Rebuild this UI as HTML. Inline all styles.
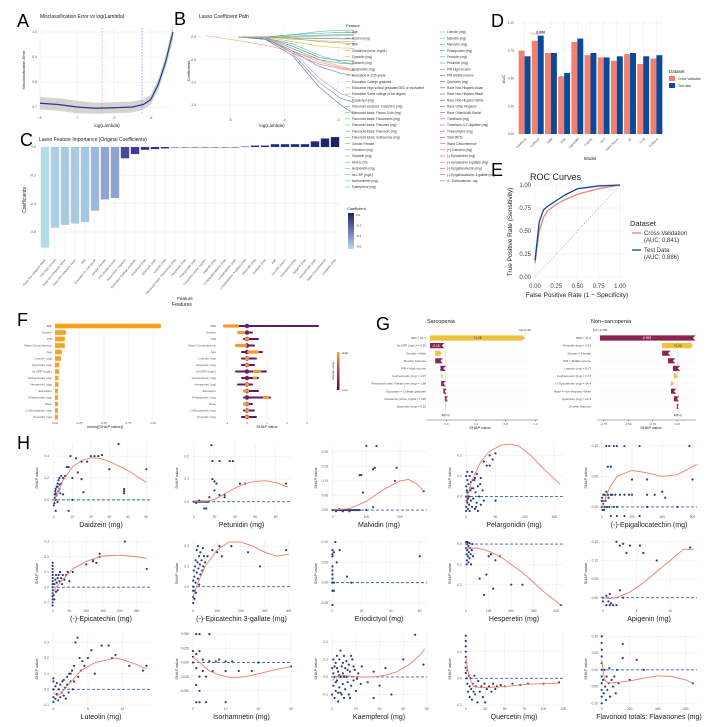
<!DOCTYPE html>
<html><head><meta charset="utf-8"><style>
html,body{margin:0;padding:0;background:#fff;}
svg{display:block;font-family:"Liberation Sans",Arial,sans-serif;}
</style></head><body>
<svg id="chart" width="726" height="727" viewBox="0 0 726 727">
<rect width="726" height="727" fill="#fff"/>
<g font-size="18" fill="#000">
<text x="17" y="27">A</text>
<text x="174" y="25">B</text>
<text x="20" y="146">C</text>
<text x="491" y="27">D</text>
<text x="491" y="176">E</text>
<text x="17" y="326">F</text>
<text x="376" y="330">G</text>
<text x="17" y="449">H</text>
</g>
<text x="40" y="18" font-size="5" fill="#222">Misclassification Error vs log(Lambda)</text>
<text x="107" y="127" font-size="4.5" fill="#222" text-anchor="middle">log(Lambda)</text>
<text transform="translate(25,70) rotate(-90)" font-size="4" fill="#222" text-anchor="middle">Misclassification Error</text>
<text x="199" y="18" font-size="5" fill="#222">Lasso Coefficient Path</text>
<text x="272" y="127" font-size="4.5" fill="#222" text-anchor="middle">log(Lambda)</text>
<text transform="translate(190,71) rotate(-90)" font-size="4" fill="#222" text-anchor="middle">Coefficients</text>
<text x="346" y="27" font-size="4" fill="#222">Feature</text>
<text x="39" y="141" font-size="5" fill="#222">Lasso Feature Importance (Original Coefficients)</text>
<text transform="translate(26,200) rotate(-90)" font-size="5" fill="#222" text-anchor="middle">Coefficients</text>
<text x="185" y="300" font-size="4.5" fill="#222" text-anchor="middle">Feature</text>
<text x="347" y="210" font-size="4" fill="#222">Coefficient</text>
<text x="590" y="160" font-size="4.5" fill="#222" text-anchor="middle">Model</text>
<text transform="translate(505,79) rotate(-90)" font-size="4" fill="#222" text-anchor="middle">AUC</text>
<text x="669" y="73" font-size="4.5" fill="#222">Dataset</text>
<text x="530" y="180" font-size="9" fill="#222">ROC Curves</text>
<text x="577" y="297" font-size="6.5" fill="#222" text-anchor="middle">False Positive Rate (1 − Specificity)</text>
<text transform="translate(512,232) rotate(-90)" font-size="6.5" fill="#222" text-anchor="middle">True Positive Rate (Sensitivity)</text>
<text x="630" y="226" font-size="7.5" fill="#222">Dataset</text>
<text x="182" y="306" font-size="5" fill="#222" text-anchor="middle">Features</text>
<text x="105" y="428" font-size="4" fill="#222" text-anchor="middle">mean(|SHAP value|)</text>
<text x="267" y="428" font-size="4" fill="#222" text-anchor="middle">SHAP value</text>
<text x="427" y="323" font-size="5.5" fill="#222">Sarcopenia</text>
<text x="591" y="323" font-size="5.5" fill="#222">Non−sarcopenia</text>
<text x="480" y="429" font-size="4" fill="#222" text-anchor="middle">SHAP value</text>
<text x="651" y="429" font-size="4" fill="#222" text-anchor="middle">SHAP value</text>
</svg>
<script>
// ---------- DATA ----------
const aLambda=[-8,-7.5,-7,-6.5,-6,-5.5,-5.2,-5,-4.8,-4.6,-4.4];
const aErr=[0.715,0.71,0.70,0.695,0.697,0.70,0.71,0.73,0.79,0.88,1.0];
const aSE=[0.025,0.025,0.025,0.022,0.022,0.022,0.02,0.02,0.022,0.025,0.03];
const aMinLambda=-6.32, aSeLambda=-5.24;
const aXTicks=["-8","-7","-6","-5"], aYTicks=["0.7","0.8","0.9","1.0"];

const bLambda=[-5.45,-4.85,-4.35,-3.85,-3.35,-2.95,-2.7];
const bPaths=[
[0.03,-0.08,-0.18,-0.32,-0.5,-0.65,-0.72],
[null,0,0,0.05,0.12,0.15,0.15],
[null,0,0,0.02,0.04,0.05,0.05],
[null,0,0,-0.02,-0.03,-0.04,-0.04],
[null,0,0,0.01,0.02,0.03,0.03],
[null,0,0,-0.05,-0.08,-0.1,-0.1],
[null,0,0,-0.1,-0.2,-0.24,-0.25],
[null,0,0,-0.2,-0.45,-0.52,-0.53],
[null,0,0,-0.25,-0.5,-0.58,-0.6],
[null,0,-0.05,-0.3,-0.65,-0.8,-0.85],
[null,0,-0.05,-0.4,-1.1,-1.5,-1.7],
[null,0,-0.03,-0.35,-1.0,-1.35,-1.45],
[null,0,-0.02,-0.3,-0.9,-1.25,-1.35],
[null,0,0,-0.35,-0.6,-0.7,-0.75],
[null,0,0,-0.3,-0.55,-0.68,-0.72],
[null,0,-0.02,-0.15,-0.4,-0.55,-0.6],
[null,0,0,0.05,0.08,0.1,0.1],
[null,0,0,-0.03,-0.1,-0.13,-0.15]];
const bColors=["#e8a070","#5cc0c0","#60a8d8","#4070b0","#a0c070","#e0b050","#d8c040","#40a070","#50b080","#4a80c8","#7070b0","#8080c0","#a0a0d0","#e08090","#e89080","#70b0d8","#40b0a0","#c0a050"];
const bXTicks=["-5","-4","-3"], bYTicks=["0.0","-0.5","-1.0","-1.5"];
const bLegend1=["Age","Alcohol (mg)","BMI","Creatinine (urine, mg/dL)","Cyanidin (mg)","Daidzein (mg)","Delphinidin (mg)","Education 9–11th grade","Education College graduate","Education High school graduate/GED or equivalent","Education Some college or AA degree","Eriodictyol (mg)","Flavonoid subclass: Catechins (mg)","Flavonoid totals: Flavan-3-ols (mg)","Flavonoid totals: Flavanones (mg)","Flavonoid totals: Flavones (mg)","Flavonoid totals: Flavonols (mg)","Flavonoid totals: Isoflavones (mg)","Gender Female","Genistein (mg)","Glycitein (mg)","HbA1c (%)","Hesperetin (mg)","hs-CRP (mg/L)","Isorhamnetin (mg)","Kaempferol (mg)"];
const bLegend2=["Luteolin (mg)","Malvidin (mg)","Myricetin (mg)","Pelargonidin (mg)","Peonidin (mg)","Petunidin (mg)","PIR High income","PIR Middle income","Quercetin (mg)","Race Non-Hispanic Asian","Race Non-Hispanic Black","Race Non-Hispanic White","Race Other Hispanic","Race Other/Multi-Racial","Theaflavin (mg)","Theaflavin-3,3'-digallate (mg)","Thearubigins (mg)","Total METs","Waist Circumference","(+)-Catechin (mg)","(-)-Epicatechin (mg)","(-)-Epicatechin 3-gallate (mg)","(-)-Epigallocatechin (mg)","(-)-Epigallocatechin 3-gallate (mg)","X...Gallocatechin..mg."];

const cFeatures=["Race Non-Hispanic Black","PIR High income","Race Non-Hispanic White","Race Non-Hispanic Asian","BMI","Education 9–11th grade","Gender Female","PIR Middle income","Race Other Hispanic","Education College graduate","Eriodictyol (mg)","Quercetin (mg)","Luteolin (mg)","Flavonoid totals: Flavanones (mg)","Hesperetin (mg)","Pelargonidin (mg)","Creatinine (urine, mg/dL)","Malvidin (mg)","(-)-Epigallocatechin (mg)","(-)-Epicatechin (mg)","(-)-Epicatechin 3-gallate (mg)","Petunidin (mg)","Daidzein (mg)","Age","hs-CRP (mg/L)","Kaempferol (mg)","Apigenin (mg)","Isorhamnetin (mg)","Waist Circumference","Genistein (mg)"];
const cValues=[-0.71,-0.57,-0.55,-0.54,-0.53,-0.45,-0.37,-0.36,-0.08,-0.05,-0.02,-0.015,-0.01,-0.003,-0.002,-0.001,-0.001,0,0,0,0.003,0.01,0.01,0.02,0.02,0.02,0.02,0.04,0.06,0.07];
const cYTicks=["0.0","-0.2","-0.4","-0.6"];

const dModels=["AdaBoost","CatBoost","GBM","KNN","LightGBM","Logistic","MLP","Naive Bayes","RF","SVM","XGBoost"];
const dCV=[0.75,0.84,0.73,0.52,0.83,0.71,0.69,0.66,0.72,0.63,0.68];
const dTest=[0.70,0.886,0.73,0.55,0.86,0.73,0.69,0.70,0.73,0.70,0.71];
const dYTicks=["0.00","0.25","0.50","0.75","1.00"];

const eFPR=[0,0.05,0.1,0.15,0.25,0.35,0.5,0.75,1];
const eTprCV=[0.15,0.5,0.65,0.72,0.79,0.84,0.9,0.96,1];
const eTprTest=[0.18,0.6,0.73,0.77,0.83,0.89,0.96,0.99,1];
const eTicks=["0.00","0.25","0.50","0.75","1.00"];

const fFeatures=["BMI","Gender","PIR","Waist Circumference","Age","Luteolin (mg)","Quercetin (mg)","hs-CRP (mg/L)","Isorhamnetin (mg)","Hesperetin (mg)","Education","Pelargonidin (mg)","Race","(-)-Epicatechin (mg)","Peonidin (mg)"];
const fMeanShap=[1.08,0.11,0.10,0.10,0.07,0.06,0.045,0.04,0.035,0.035,0.03,0.03,0.03,0.03,0.03];
const fShapLo=[-1.2,-0.3,-0.2,-0.5,-0.3,-0.3,-0.3,-0.6,-0.3,-0.5,-0.2,-0.2,-0.2,-0.2,-0.3];
const fShapHi=[3.6,0.3,0.6,0.4,0.8,0.5,0.4,1.0,0.6,0.3,0.6,1.2,0.3,0.4,0.5];
const fHighLo=[-1.2,-0.5,-0.1,-0.6,0,-0.1,-0.1,0.3,0.3,-0.1,-0.2,0.8,-0.2,-0.1,-0.1];
const fHighHi=[-0.4,-0.1,0.1,0,0.6,0.1,0.1,0.7,0.5,0.1,0.1,1.1,0.1,0.1,0.1];
const fBarTicks=["0.00","0.25","0.50","0.75","1.00"];
const fSwarmTicks=["-1","0","1","2","3"];

const gSLabels=["BMI = 31.7","hs-CRP (mg/L) = 0.35","Gender = Male","16 other features","PIR = High income","Isorhamnetin (mg) = 1.07","Flavonoid totals: Flavanones (mg) = 1.88","Education = College graduate","Creatinine (urine, mg/dL) = 195","Quercetin (mg) = 6.29"];
const gSValues=[1.28,-0.16,0.09,-0.07,-0.04,0.03,-0.03,-0.02,-0.02,0.01];
const gSFx=1.06;
const gNLabels=["BMI = 21.4","Peonidin (mg) = 0.81","Gender = Female","PIR = Middle income","Luteolin (mg) = 0.07","Isorhamnetin (mg) = 0.73","(-)-Epicatechin (mg) = 34.4","Race = Non-Hispanic White","Quercetin (mg) = 13.3","16 other features"];
const gNValues=[-0.953,0.316,-0.06,-0.05,-0.05,0.04,0.03,-0.03,-0.03,-0.01];
const gNFx=-0.789;
const gSTicks=["0.0","0.4","0.8","1.2"];
const gNTicks=["-0.75","-0.50","-0.25","0.00"];

const hNames=["Daidzein (mg)","Petunidin (mg)","Malvidin (mg)","Pelargonidin (mg)","(-)-Epigallocatechin (mg)","(-)-Epicatechin (mg)","(-)-Epicatechin 3-gallate (mg)","Eriodictyol (mg)","Hesperetin (mg)","Apigenin (mg)","Luteolin (mg)","Isorhamnetin (mg)","Kaempferol (mg)","Quercetin (mg)","Flavonoid totals: Flavanones (mg)"];
const hXDomain=[[-1,52],[-2,95],[-5,280],[-2,165],[-5,630],[-2,290],[-5,410],[-1,65],[-5,430],[-0.3,14],[-0.2,14],[-0.3,30],[-1,80],[-1,125],[-5,680]];
const hYDomain=[[-0.12,0.52],[-0.05,0.26],[-0.01,0.23],[-0.08,0.26],[-0.01,0.105],[-0.13,0.31],[-0.1,0.23],[-0.06,0.105],[-0.31,0.02],[-0.025,0.155],[-0.1,0.36],[-0.075,0.052],[-0.16,0.25],[-0.1,0.17],[-0.105,0.11]];
const hXTicks=[["0","10","20","30","40","50"],["0","20","40","60","80"],["0","100","200"],["0","50","100","150"],["0","200","400","600"],["0","50","100","150","200","250"],["0","100","200","300","400"],["0","20","40","60"],["0","100","200","300","400"],["0","5","10"],["0","5","10"],["0","10","20","30"],["0","20","40","60","80"],["0","25","50","75","100","125"],["0","200","400","600"]];
const hYTicks=[["0.0","0.2","0.4"],["0.0","0.1","0.2"],["0.00","0.05","0.10","0.15","0.20"],["0.0","0.1","0.2"],["0.00","0.05","0.10"],["-0.1","0.0","0.1","0.2","0.3"],["0.0","0.1","0.2"],["-0.05","0.00","0.05","0.10"],["-0.2","-0.1","0.0"],["0.00","0.05","0.10","0.15"],["-0.1","0.0","0.1","0.2","0.3"],["-0.050","-0.025","0.000","0.025","0.050"],["-0.1","0.0","0.1","0.2"],["-0.1","0.0","0.1"],["-0.10","-0.05","0.00","0.05","0.10"]];
const hCurveX=[[0,5,10,15,20,25,30,40,50],[0,10,20,30,40,50,60,70,80,92],[0,50,100,150,200,225,250,270],[0,10,25,40,60,75,90,110,130,160],[0,50,100,200,300,400,500,630],[0,10,30,60,100,150,200,250,280],[0,20,50,100,150,200,250,300,350,400],[],[0,50,100,150,200,250,300,350,420],[0,1,2,4,6,8,10,12,13.5],[0,0.5,1,2,3,4,6,8,9,10,12,13.5],[0,2,5,8,12,16,20,25,30],[0,3,8,15,25,35,45,55,65,75,78],[0,2,5,10,20,40,60,80,100,120],[0,20,50,100,200,300,400,500,600,650]];
const hCurveY=[[-0.02,0.18,0.3,0.36,0.385,0.38,0.35,0.27,0.16],[0,0,0.01,0.035,0.06,0.08,0.09,0.093,0.085,0.065],[0,0.005,0.03,0.07,0.1,0.105,0.09,0.065],[-0.02,0.08,0.17,0.22,0.25,0.255,0.245,0.2,0.14,0.06],[0,0.03,0.05,0.06,0.056,0.05,0.053,0.07],[-0.05,0,0.05,0.12,0.17,0.205,0.21,0.2,0.19],[-0.05,0.02,0.1,0.18,0.22,0.22,0.2,0.17,0.15,0.16],[],[-0.02,-0.02,-0.035,-0.06,-0.1,-0.14,-0.19,-0.24,-0.3],[0,-0.002,0,0.015,0.04,0.07,0.1,0.13,0.13],[-0.02,-0.04,-0.03,0.02,0.07,0.12,0.17,0.19,0.2,0.19,0.16,0.13],[0.01,0,-0.015,-0.022,-0.027,-0.025,-0.02,-0.013,-0.007],[-0.02,0,0.01,0.005,0,0,0.01,0.03,0.07,0.13,0.16],[0.08,0.04,0,-0.03,-0.035,-0.033,-0.028,-0.022,-0.02,-0.018],[0.03,-0.03,-0.04,-0.038,-0.033,-0.025,-0.018,-0.02,-0.03,-0.04]];
const hPoints=[
[[0,-0.05],[0.5,0.05],[1,0.1],[1,0],[1.5,0.12],[2,0.15],[2,-0.02],[2.5,0.08],[3,0.2],[3,0.1],[4,0.22],[4,0.15],[5,0.2],[5,0.05],[6,0.22],[7,0.3],[8,0.3],[9,0.4],[10,0],[10,0.2],[12,0.38],[13,0.25],[15,0.35],[15,0.19],[16,0.07],[18,0.35],[20,0.4],[22,0.4],[24,0.4],[26,0.41],[30,0.28],[35,0.51],[38,0.06],[38,0.1],[38,0.08],[50,0.28],[1,-0.1],[8,-0.1],[0.5,0.02],[2,0.12],[1,0.06],[3,0.14],[0.3,-0.03],[1.5,0.04],[2.5,0.18],[3.5,0.06],[0.8,0.08]],
[[0,0],[1,0],[2,0],[3,0],[4,0],[5,0],[6,0],[7,0],[8,0],[9,0],[10,0],[11,0],[12,0],[13,0],[14,0],[2,-0.005],[5,0.005],[10,-0.03],[12,-0.03],[15,0.02],[17,0.25],[18,0.18],[18,0.1],[20,0.09],[22,0.08],[25,0.18],[25,0.03],[30,0.03],[30,0.02],[35,0.18],[38,0.18],[45,0.08],[50,0.08],[90,0.08],[20,0.05]],
[[0,0],[5,0],[10,0],[15,0],[20,0],[25,0],[30,0],[35,0],[40,0],[45,0],[50,0],[55,0],[60,0],[65,0],[70,0],[75,0],[80,0],[10,-0.004],[30,-0.004],[50,-0.004],[20,0.003],[90,0.06],[100,0.22],[130,0.22],[120,0.14],[125,0.145],[80,0.12],[85,0.12],[190,0.145],[185,0.1],[270,0.065],[120,0.01],[100,0]],
[[0,0.1],[0,0.05],[0,0],[0,-0.05],[0,-0.07],[2,0.12],[2,0.08],[2,0.02],[2,-0.03],[3,-0.06],[4,0.06],[5,0],[5,-0.04],[6,0.1],[7,0.03],[8,-0.02],[8,0.07],[10,0.12],[10,-0.05],[12,0.04],[12,-0.01],[14,0.08],[15,-0.06],[16,0.02],[18,0.11],[18,-0.03],[20,0.05],[20,-0.07],[22,0],[25,0.09],[25,-0.04],[28,0.03],[30,0.17],[30,-0.02],[35,0.15],[40,0.2],[40,0.15],[45,0.18],[50,0.21],[50,-0.02],[1,0.03],[3,-0.01],[6,-0.07],[9,0.04],[15,0.09],[24,0.06],[1,-0.02],[4,0.0],[11,0.08],[17,-0.05]],
[[0,0],[5,0.01],[10,0.02],[15,-0.005],[20,0],[20,0.02],[25,0.01],[30,0.025],[35,0],[40,0.02],[45,0.015],[50,0],[60,0.02],[70,0.02],[80,0],[90,0.02],[0,0.01],[5,-0.005],[10,0.005],[2,0.015],[30,0.1],[50,0.1],[80,0.1],[100,0.1],[150,0.1],[40,0.066],[60,0.066],[250,0.1],[580,0.1],[600,0.045],[200,0.045],[300,0.045],[350,0.02],[420,0.015],[400,0.025],[150,0.02],[200,0.02],[300,0.02],[100,-0.015],[150,-0.015],[250,-0.015],[100,0],[300,0],[500,0],[120,0.02],[180,0.02],[60,-0.015]],
[[0,-0.12],[0,-0.1],[0,-0.08],[0,-0.06],[0,-0.04],[0,-0.02],[0,0],[0,0.02],[0,0.04],[0,0.06],[0,0.08],[0,0.1],[0,0.12],[0,0.14],[0,0.16],[3,-0.05],[5,0.02],[5,-0.08],[8,0.05],[10,-0.03],[10,0.08],[12,0.03],[15,0.06],[15,-0.02],[18,0.08],[20,0.04],[22,0.1],[25,0.06],[28,0.02],[30,0.08],[35,0.05],[40,0.08],[45,0.1],[50,0.04],[100,0.15],[120,0.17],[130,0.16],[140,0.2],[140,0.22],[215,0.3],[280,0.12],[120,0.18],[60,0.1]],
[[0,-0.08],[0,-0.05],[0,-0.02],[0,0],[0,0.03],[5,0.05],[5,-0.06],[8,0.1],[10,0.02],[10,0.13],[12,-0.03],[15,0.07],[15,0.18],[18,0.12],[20,0.04],[20,0.2],[22,0.09],[25,0.15],[25,0.01],[28,0.11],[30,0.06],[30,0.17],[35,0.13],[38,0.08],[40,0.19],[42,0.1],[45,0.15],[50,0.12],[60,0.15],[80,0.18],[100,0.17],[110,0.2],[120,0.15],[160,0.2],[230,0.17],[280,0.1],[390,0.18],[3,0.08],[7,-0.02]],
[[0,0.08],[0,0.07],[0,0.065],[1,0.075],[2,0.1],[5,0.08],[3,0.05],[0,0.03],[0,0.02],[0,0.01],[1,0],[0,-0.02],[1,-0.02],[0,-0.055],[13,0],[10,0.015],[60,0.065],[0,0],[0,0.04]],
[[0,0.01],[0,-0.02],[2,-0.05],[3,-0.08],[5,0],[5,-0.03],[8,-0.06],[10,-0.01],[10,-0.09],[12,-0.04],[15,0.005],[15,-0.07],[18,-0.02],[20,-0.05],[22,-0.1],[25,-0.03],[28,0],[30,-0.06],[2,-0.1],[7,0.01],[100,-0.06],[150,-0.06],[130,-0.08],[80,-0.25],[120,-0.22],[200,-0.2],[250,-0.2],[420,-0.3],[90,-0.15],[60,-0.17],[110,-0.05]],
[[2,0.15],[2.5,0.14],[3,0.145],[3.5,0.12],[4,0.14],[5.5,0.14],[6,0.12],[13,0.135],[8,0.1],[0,0],[0.5,-0.02],[1,-0.02],[1.5,-0.02],[2,-0.02],[0.5,0.005],[1,0.01],[2.5,0.02],[3,0],[0,-0.01],[1.2,-0.015],[0.8,-0.01]],
[[0,-0.08],[0,-0.05],[0,0],[0,0.05],[0,0.07],[0.3,-0.06],[0.3,0.02],[0.5,-0.03],[0.5,0.04],[0.7,-0.07],[0.8,0],[1,-0.05],[1,0.03],[1.2,-0.02],[1.3,0.05],[1.5,-0.04],[1.5,0.06],[1.7,0.01],[1.8,-0.06],[2,0.03],[2,0.08],[2.2,-0.02],[2.3,0.1],[2.5,0.05],[2.7,0.12],[2.8,0],[3,0.15],[3,0.05],[3.2,0.3],[3.5,0.33],[3.8,0.2],[4,0.12],[4.5,0.15],[5,0.2],[5.5,0.25],[6,0.1],[7,0.28],[8,0.28],[8.5,0.2],[9,0.22],[11,0.15],[13,0.12],[13.5,0.15],[2.5,0.1],[4.2,0.18],[3.6,0.08]],
[[0,0.02],[1,0.015],[2,0.02],[0,0.01],[3,0.005],[5,0.002],[7,0.002],[10,0.002],[12,0.002],[20,0],[30,-0.007],[1,0.05],[2,0.05],[5,0.05],[1,-0.01],[3,-0.015],[6,-0.015],[10,-0.015],[14,-0.015],[18,-0.015],[2,-0.025],[4,-0.025],[1,-0.04],[2,-0.05],[1,-0.07],[2,-0.07],[4,-0.07],[10,-0.07],[0,0],[8,0.005]],
[[0,-0.1],[0,0.05],[1,0.1],[1,-0.05],[2,0],[2,-0.12],[3,0.08],[3,-0.08],[4,0.12],[4,-0.02],[5,0.03],[5,-0.14],[6,0.1],[6,-0.06],[7,0.15],[7,0],[8,-0.1],[8,0.06],[9,0.02],[9,-0.04],[10,0.12],[10,-0.12],[11,0.05],[11,-0.07],[12,0],[12,0.09],[13,-0.03],[14,0.07],[14,-0.1],[15,0.03],[16,-0.05],[17,0.1],[18,-0.02],[19,0.04],[20,-0.08],[22,0.02],[24,-0.04],[25,0.06],[2,0.06],[5,-0.09],[30,-0.03],[35,0.03],[40,-0.05],[45,0.05],[50,-0.1],[60,0.1],[70,0.24],[77,0.07],[35,-0.12],[1,0.02],[3,-0.03],[4,0.05],[6,0.01],[7,-0.09],[9,0.08],[10,0.0],[13,0.04],[15,-0.12],[16,0.12],[18,0.06],[21,-0.01]],
[[0,0.16],[0,0.14],[0,0.12],[0,0.1],[0,0.08],[0,0.06],[0,0.04],[0,0.02],[1,0],[2,-0.02],[2,0.03],[3,-0.05],[4,0.01],[5,-0.03],[5,-0.07],[6,0],[7,-0.04],[8,-0.08],[9,-0.02],[10,-0.05],[11,0.01],[12,-0.06],[13,-0.03],[15,-0.09],[16,-0.01],[18,-0.05],[20,-0.03],[22,-0.07],[24,-0.02],[25,-0.09],[27,-0.04],[30,-0.03],[33,-0.05],[35,-0.02],[38,-0.04],[40,-0.03],[45,-0.025],[50,-0.03],[60,-0.02],[70,-0.025],[80,-0.02],[100,-0.02],[120,-0.015]],
[[0,0.1],[0,0.08],[0,0.06],[0,0.04],[0,0.02],[0,0],[0,-0.02],[0,-0.04],[0,-0.06],[0,-0.08],[0,-0.1],[10,-0.03],[15,-0.07],[20,0],[25,-0.05],[30,-0.09],[35,-0.02],[40,-0.06],[50,-0.04],[55,0.005],[60,-0.08],[70,-0.03],[80,-0.05],[90,-0.02],[100,-0.07],[110,0],[150,0.077],[150,0.035],[200,-0.03],[250,0.03],[300,0],[650,-0.04],[120,-0.04]]];

// ---------- HELPERS ----------
const NS='http://www.w3.org/2000/svg';
const svg=document.getElementById('chart');
function mk(tag,attrs,parent){const e=document.createElementNS(NS,tag);for(const k in attrs)e.setAttribute(k,attrs[k]);(parent||svg).appendChild(e);return e;}
function lin(d0,d1,r0,r1){return v=>r0+(v-d0)/(d1-d0)*(r1-r0);}
function grp(name){const g=mk('g',{});return g;}
function txt(p,x,y,s,fs,anchor,fill){const t=mk('text',{x:x,y:y,'font-size':fs,'text-anchor':anchor||'start',fill:fill||'#555'},p);t.textContent=s;return t;}
function mix(c1,c2,t){const a=[1,3,5].map(i=>parseInt(c1.substr(i,2),16)),b=[1,3,5].map(i=>parseInt(c2.substr(i,2),16));return 'rgb('+a.map((v,i)=>Math.round(v+(b[i]-v)*t)).join(',')+')';}
function ramp(stops,t){const n=stops.length-1;const k=Math.min(n-1,Math.floor(t*n));return mix(stops[k],stops[k+1],t*n-k);}
const GRID='#ebebeb';

// ---------- PANEL A ----------
(function(){
const g=grp('panel-a-error-plot');
const x=lin(-8,-4.4,40,173), y=lin(0.7,1.0,107,32);
aXTicks.forEach(s=>{const v=parseFloat(s);mk('line',{x1:x(v),x2:x(v),y1:28,y2:113,stroke:GRID,'stroke-width':0.5},g);txt(g,x(v),119,s,3.5,'middle');});
aYTicks.forEach(s=>{const v=parseFloat(s);mk('line',{x1:40,x2:173,y1:y(v),y2:y(v),stroke:GRID,'stroke-width':0.5},g);txt(g,37,y(v)+1.2,s,3.5,'end');});
let up=aLambda.map((l,i)=>x(l)+','+y(aErr[i]+aSE[i])), dn=aLambda.map((l,i)=>x(l)+','+y(aErr[i]-aSE[i])).reverse();
const band=mk('polygon',{points:up.concat(dn).join(' '),fill:'#c8c8c8','fill-opacity':0.8},g);

const ln=mk('polyline',{points:aLambda.map((l,i)=>x(l)+','+y(aErr[i])).join(' '),fill:'none',stroke:'#27358a','stroke-width':1.2},g);

const r=mk('line',{x1:x(aMinLambda),x2:x(aMinLambda),y1:28,y2:113,stroke:'#f08080','stroke-width':0.6,'stroke-dasharray':'1.5,1.5'},g);

const b=mk('line',{x1:x(aSeLambda),x2:x(aSeLambda),y1:28,y2:113,stroke:'#5080d0','stroke-width':0.6,'stroke-dasharray':'1.5,1.5'},g);

})();

// ---------- PANEL B ----------
(function(){
const g=grp('panel-b-coef-path');
const x=lin(-5,-3,230,338), y=lin(0,-1.5,37,105);
bXTicks.forEach(s=>{const v=parseFloat(s);mk('line',{x1:x(v),x2:x(v),y1:25,y2:118,stroke:GRID,'stroke-width':0.5},g);txt(g,x(v),121,s,3.5,'middle');});
bYTicks.forEach(s=>{const v=parseFloat(s);mk('line',{x1:198,x2:342,y1:y(v),y2:y(v),stroke:GRID,'stroke-width':0.5},g);txt(g,196,y(v)+1.2,s,3.5,'end');});
bPaths.forEach((p,i)=>{const pts=[];p.forEach((v,j)=>{if(v!==null)pts.push(x(bLambda[j])+','+y(v));});
const l=mk('polyline',{points:pts.join(' '),fill:'none',stroke:bColors[i%bColors.length],'stroke-width':0.6},g);
});
const lg=grp('panel-b-legend');
const all=bLegend1.concat(bLegend2);
all.forEach((s,i)=>{const col=i<bLegend1.length?0:1, k=col?i-bLegend1.length:i;
const lx=col?440:345, ly=32+k*6.2;
const c='hsl('+(20+i*320/all.length)+',55%,62%)';
const e=mk('line',{x1:lx,x2:lx+5,y1:ly,y2:ly,stroke:c,'stroke-width':0.7},lg);

txt(lg,lx+7,ly+1.2,s,3.2,'start','#333');});
})();

// ---------- PANEL C ----------
(function(){
const g=grp('panel-c-importance');
const y=lin(0,-0.6,147,232), x0=40, bw=10;
cYTicks.forEach(s=>{const v=parseFloat(s);mk('line',{x1:40,x2:340,y1:y(v),y2:y(v),stroke:GRID,'stroke-width':0.5},g);txt(g,36,y(v)+1.2,s,3.5,'end');});
const mn=Math.min(...cValues), mx=Math.max(...cValues);
const stops=['#b3dbe8','#92a8d4','#7676b8','#3c3f96','#1b2366'];
cValues.forEach((v,i)=>{const cx=x0+i*bw+bw/2;
mk('line',{x1:cx,x2:cx,y1:142,y2:255,stroke:GRID,'stroke-width':0.5},g);
const t=(v-mn)/(mx-mn);
const r=mk('rect',{x:cx-4.2,y:Math.min(y(0),y(v)),width:8.4,height:Math.max(0.5,Math.abs(y(v)-y(0))),fill:ramp(stops,Math.pow(t,1.6))},g);

const l=txt(g,0,0,cFeatures[i],3,'end','#555');
l.setAttribute('transform','translate('+(cx+1)+',260) rotate(-50)');});
const cb=grp('panel-c-colorbar');
const gd=mk('linearGradient',{id:'cgrad',x1:0,y1:0,x2:0,y2:1},mk('defs',{},cb));
mk('stop',{offset:0,'stop-color':'#1b2366'},gd);mk('stop',{offset:0.5,'stop-color':'#7676b8'},gd);mk('stop',{offset:1,'stop-color':'#b3dbe8'},gd);
const rb=mk('rect',{x:348,y:213,width:6,height:36,fill:'url(#cgrad)'},cb);

["0.0","-0.2","-0.4","-0.6"].forEach((s,i)=>txt(cb,356,216+i*10.5,s,3,'start','#333'));
})();

// ---------- PANEL D ----------
(function(){
const g=grp('panel-d-auc-bars');
const y=lin(0,1,134,23), x0=518, band=(663-518)/dModels.length;
dYTicks.forEach(s=>{const v=parseFloat(s);mk('line',{x1:518,x2:663,y1:y(v),y2:y(v),stroke:GRID,'stroke-width':0.5},g);txt(g,514,y(v)+1.2,s,3.2,'end');});
dModels.forEach((m,i)=>{const cx=x0+band*i+band/2;
mk('line',{x1:cx,x2:cx,y1:20,y2:134,stroke:GRID,'stroke-width':0.5},g);
const a=mk('rect',{x:cx-band*0.45,y:y(dCV[i]),width:band*0.45,height:y(0)-y(dCV[i]),fill:'#f08070'},g);

const b=mk('rect',{x:cx,y:y(dTest[i]),width:band*0.45,height:y(0)-y(dTest[i]),fill:'#0b4a9a'},g);

const l=txt(g,0,0,m,3,'end','#555');l.setAttribute('transform','translate('+(cx+2)+',139) rotate(-45)');});
const bi=dCV.indexOf(Math.max(...dCV)), ti=dTest.indexOf(Math.max(...dTest));
txt(g,x0+band*bi+band/2-band*0.22,y(dCV[bi])-6,dCV[bi].toFixed(3),3.5,'middle','#f08070');
txt(g,x0+band*ti+band/2+band*0.22,y(dTest[ti])-2,dTest[ti].toFixed(3),3.5,'middle','#0b4a9a').setAttribute('font-weight','bold');
const lg=grp('panel-d-legend');
const s1=mk('rect',{x:669,y:76,width:6,height:5,fill:'#f08070'},lg);
const s2=mk('rect',{x:669,y:83,width:6,height:5,fill:'#0b4a9a'},lg);
txt(lg,678,80,'Cross Validation',3.2,'start','#333');txt(lg,678,87,'Test data',3.2,'start','#333');
})();

// ---------- PANEL E ----------
(function(){
const g=grp('panel-e-roc');
const x=lin(0,1,535,620), y=lin(0,1,277,185);
eTicks.forEach(s=>{const v=parseFloat(s);
mk('line',{x1:x(v),x2:x(v),y1:183,y2:279,stroke:GRID,'stroke-width':0.5},g);
mk('line',{x1:533,x2:622,y1:y(v),y2:y(v),stroke:GRID,'stroke-width':0.5},g);
txt(g,x(v),288,s,6,'middle','#444');txt(g,531,y(v)+2,s,6,'end','#444');});
const d=mk('line',{x1:x(0),y1:y(0),x2:x(1),y2:y(1),stroke:'#aaa','stroke-width':0.6,'stroke-dasharray':'1.5,1.5'},g);

const c1=mk('polyline',{points:eFPR.map((f,i)=>x(f)+','+y(eTprCV[i])).join(' '),fill:'none',stroke:'#f08070','stroke-width':1.3,'stroke-linejoin':'round'},g);

const c2=mk('polyline',{points:eFPR.map((f,i)=>x(f)+','+y(eTprTest[i])).join(' '),fill:'none',stroke:'#0b4a9a','stroke-width':1.3,'stroke-linejoin':'round'},g);

const lg=grp('panel-e-legend');
const l1=mk('line',{x1:632,x2:641,y1:233,y2:233,stroke:'#f08070','stroke-width':1.3},lg);
const l2=mk('line',{x1:632,x2:641,y1:250,y2:250,stroke:'#0b4a9a','stroke-width':1.3},lg);
txt(lg,644,235,'Cross Validation',6,'start','#333');txt(lg,644,242,'(AUC: 0.841)',6,'start','#333');
txt(lg,644,252,'Test Data',6,'start','#333');txt(lg,644,259,'(AUC: 0.886)',6,'start','#333');
})();

// ---------- PANEL F ----------
(function(){
const g=grp('panel-f-mean-shap');
const x=lin(0,1,55,153), rowY=i=>326+i*6.5;
fBarTicks.forEach(s=>{const v=parseFloat(s);mk('line',{x1:x(v),x2:x(v),y1:322,y2:420,stroke:GRID,'stroke-width':0.5},g);txt(g,x(v),424,s,3,'middle');});
fFeatures.forEach((f,i)=>{txt(g,52,rowY(i)+1.1,f,3,'end');
const r=mk('rect',{x:55,y:rowY(i)-2.3,width:x(fMeanShap[i])-55,height:4.6,fill:'#f7a21b'},g);
});
const s=grp('panel-f-beeswarm');
const xs=lin(0,1,247,267);
fSwarmTicks.forEach(t=>{const v=parseFloat(t);mk('line',{x1:xs(v),x2:xs(v),y1:322,y2:420,stroke:GRID,'stroke-width':0.5},s);txt(s,xs(v),424,t,3,'middle');});
fFeatures.forEach((f,i)=>{const yy=rowY(i);txt(s,216,yy+1.1,f,3,'end');
const r=mk('rect',{x:xs(fShapLo[i]),y:yy-1,width:xs(fShapHi[i])-xs(fShapLo[i]),height:2,rx:1,fill:'#5b1c6a'},s);

mk('ellipse',{cx:xs(0),cy:yy,rx:2.2,ry:2.3,fill:'#6a2070'},s);
const h=mk('rect',{x:xs(fHighLo[i]),y:yy-1.6,width:Math.max(2,xs(fHighHi[i])-xs(fHighLo[i])),height:3.2,rx:1.6,fill:'#f29a2e'},s);
});
const gd=mk('linearGradient',{id:'fgrad',x1:0,y1:0,x2:0,y2:1},mk('defs',{},s));
mk('stop',{offset:0,'stop-color':'#f7a21b'},gd);mk('stop',{offset:0.5,'stop-color':'#c0305a'},gd);mk('stop',{offset:1,'stop-color':'#4a1060'},gd);
const cb=mk('rect',{x:337,y:352,width:2.5,height:38,fill:'url(#fgrad)'},s);
txt(s,342,354,'High',3,'start','#333');txt(s,342,391,'Low',3,'start','#333');
const ft=txt(s,0,0,'Feature value',3,'middle','#333');ft.setAttribute('transform','translate(334,371) rotate(-90)');
})();

// ---------- PANEL G ----------
function waterfall(name,labels,vals,fx,x0px,x1px,labelX,ticks,fLabel){
const g=grp(name);
let cum=[fx];for(let i=0;i<vals.length;i++)cum.push(cum[i]-vals[i]);
const lo=Math.min(...cum),hi=Math.max(...cum);
const x=lin(lo,hi,x0px,x1px), rowY=i=>338+i*7.6;
ticks.forEach(s=>{const v=parseFloat(s);const xx=x(v);txt(g,xx,425,s,3,'middle');mk('line',{x1:xx,x2:xx,y1:420,y2:421.5,stroke:'#333','stroke-width':0.4},g);});
mk('line',{x1:Math.min(x0px,x(parseFloat(ticks[0])))-3,x2:Math.max(x1px,x(parseFloat(ticks[ticks.length-1])))+3,y1:420,y2:420,stroke:'#333','stroke-width':0.4},g);
labels.forEach((l,i)=>{const yy=rowY(i);
mk('line',{x1:x0px-2,x2:x1px+2,y1:yy,y2:yy,stroke:'#eee','stroke-width':0.4,'stroke-dasharray':'1,1'},g);
txt(g,labelX,yy+1.1,l,3,'end','#444');
const a=x(cum[i+1]), b=x(cum[i]), v=vals[i], h=2.6, tip=Math.min(2.5,Math.abs(b-a));
let pts;
if(v>0) pts=[[a,yy-h],[b-tip,yy-h],[b,yy],[b-tip,yy+h],[a,yy+h]];
else pts=[[b,yy-h],[a+tip,yy-h],[a,yy],[a+tip,yy+h],[b,yy+h]];
const p=mk('polygon',{points:pts.map(q=>q.join(',')).join(' '),fill:v>0?'#f1c03c':'#8e2352'},g);

if(Math.abs(b-a)>8)txt(g,(a+b)/2,yy+1.2,(v>0?'+':'')+v.toFixed(Math.abs(v)>=0.5&&Math.abs(v)<1?3:2),3.2,'middle',v>0?'#333':'#fff');});
const E=cum[cum.length-1];
mk('line',{x1:x(E),x2:x(E),y1:338,y2:412,stroke:'#999','stroke-width':0.4,'stroke-dasharray':'1,1'},g);
txt(g,x(E),416,'E[f(x)]',3,'middle','#333');
mk('line',{x1:x(fx),x2:x(fx),y1:331,y2:338,stroke:'#999','stroke-width':0.4,'stroke-dasharray':'1,1'},g);
txt(g,x(fx),331,fLabel,3,'middle','#333');}
waterfall('panel-g-sarcopenia',gSLabels,gSValues,gSFx,430,525,426,gSTicks,'f(x)=1.06');
waterfall('panel-g-non-sarcopenia',gNLabels,gNValues,gNFx,600,693,591,gNTicks,'f(x)=-0.789');

// ---------- PANEL H ----------
const hColX=[[52,150],[192,291],[331,427],[465,563],[601,697]];
const hRowY=[[443,513],[540,607],[633,705]];
hNames.forEach((name,i)=>{
const col=i%5,row=Math.floor(i/5);
const [px0,px1]=hColX[col],[py0,py1]=hRowY[row];
const g=grp('shap-dependence-'+(i+1));
const x=lin(hXDomain[i][0],hXDomain[i][1],px0,px1), y=lin(hYDomain[i][0],hYDomain[i][1],py1,py0);
hXTicks[i].forEach(s=>{const v=parseFloat(s);mk('line',{x1:x(v),x2:x(v),y1:py0,y2:py1,stroke:GRID,'stroke-width':0.5},g);txt(g,x(v),py1+5,s,3.3,'middle');});
hYTicks[i].forEach(s=>{const v=parseFloat(s);mk('line',{x1:px0,x2:px1,y1:y(v),y2:y(v),stroke:GRID,'stroke-width':0.5},g);txt(g,px0-3,y(v)+1.1,s,3.3,'end');});
const z=mk('line',{x1:px0,x2:px1,y1:y(0),y2:y(0),stroke:'#2f6aa8','stroke-width':0.9,'stroke-dasharray':'3,2'},g);

hPoints[i].forEach(p=>{const c=mk('circle',{cx:x(p[0]),cy:y(p[1]),r:1.1,fill:'#2a3d7c'},g);
});
if(hCurveX[i].length){const c=mk('polyline',{points:hCurveX[i].map((v,j)=>x(v)+','+y(hCurveY[i][j])).join(' '),fill:'none',stroke:'#ee7f6a','stroke-width':0.9,'stroke-linejoin':'round'},g);
}
const yt=txt(g,0,0,'SHAP value',4,'middle','#333');yt.setAttribute('transform','translate('+(px0-14)+','+((py0+py1)/2)+') rotate(-90)');
txt(g,(px0+px1)/2,py1+14,name,7,'middle','#222');
});
</script>
</body></html>
